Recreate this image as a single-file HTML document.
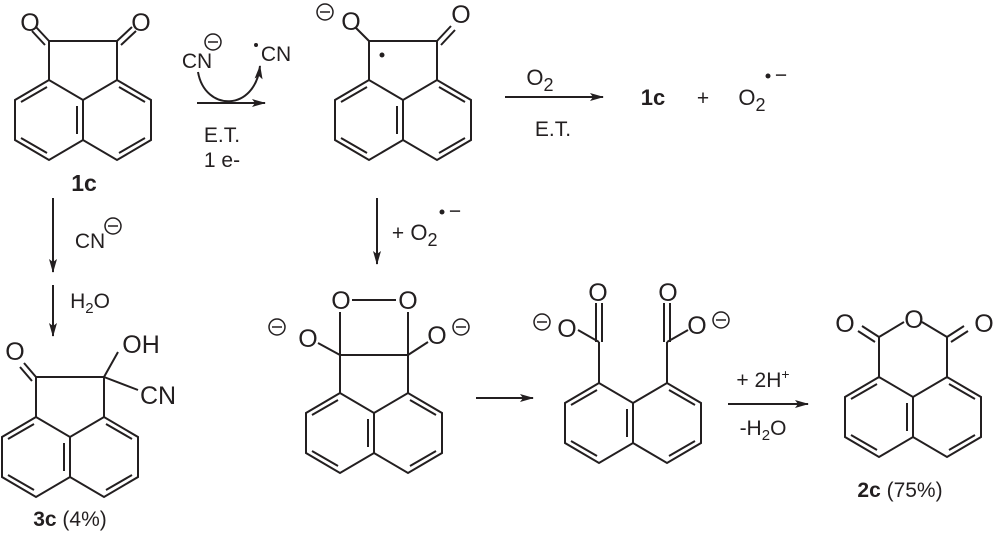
<!DOCTYPE html>
<html><head><meta charset="utf-8"><style>
html,body{margin:0;padding:0;background:#fff;}
svg{display:block;}
text{font-family:"Liberation Sans",sans-serif;fill:#231f20;}
</style></head><body>
<svg width="1000" height="536" viewBox="0 0 1000 536" xmlns="http://www.w3.org/2000/svg">
<defs>
<g id="naph" fill="none" stroke="#231f20" stroke-width="2">
<path d="M-34,-20 L-68,0 L-68,40 L-34,60 L0,40 L34,60 L68,40 L68,0 L34,-20 L0,0 Z M0,0 L0,40"/>
<path d="M-36,-13 L-62,2 M-62,38 L-36,53 M-6,6 L-6,34 M36,-13 L62,2 M62,38 L36,53"/>
</g>
<g id="minus" fill="none" stroke="#231f20" stroke-width="1.5">
<circle cx="0" cy="0" r="8"/><path d="M-5,0 L5,0"/>
</g>
<marker id="ah" markerWidth="14" markerHeight="8" refX="13" refY="4" orient="auto" markerUnits="userSpaceOnUse">
<path d="M0,0 L14,4 L0,8 L3,4 Z" fill="#231f20"/>
</marker>
</defs>

<g stroke="#231f20" stroke-width="2" fill="none">
<use href="#naph" x="83" y="100"/>
<path d="M49,80 L49,41 L117,41 L117,80"/>
<path d="M49,41 L36,27 M45,45 L32,31"/>
<path d="M117,41 L132,27 M121,45 L136,31"/>
<use href="#naph" x="403" y="100"/>
<path d="M369,80 L369,41 L437,41 L437,80"/>
<path d="M369,41 L356,28"/>
<path d="M437,41 L451,26 M441,45 L455,30"/>
<use href="#naph" x="70" y="437"/>
<path d="M36,417 L36,377 L104,377 L104,417"/>
<path d="M36,377 L24,363 M32,381 L20,367"/>
<path d="M104,377 L118,352 M104,377 L138,390"/>
<use href="#naph" x="374" y="413"/>
<path d="M340,393 L340,355 L408,355 L408,393"/>
<path d="M340,355 L340,312 M408,355 L408,312 M352,300 L396,300"/>
<path d="M340,355 L318,343 M408,355 L428,342"/>
<use href="#naph" x="633" y="403"/>
<path d="M599,383 L599,342 M667,383 L667,342"/>
<path d="M599,342 L578,330 M667,342 L688,330"/>
<path d="M596,342 L596,303 M602,342 L602,303 M664,342 L664,303 M670,342 L670,303"/>
<use href="#naph" x="913" y="397"/>
<path d="M879,377 L879,337 M947,377 L947,337"/>
<path d="M879,337 L904,322 M947,337 L922,322"/>
<path d="M879,337 L862,326 M875,342 L858,331"/>
<path d="M947,337 L964,326 M951,342 L968,331"/>
<path d="M197,103 L265,103" marker-end="url(#ah)"/>
<path d="M198,72 C205,112 255,112 260,66" marker-end="url(#ah)"/>
<path d="M505,97 L603,97" marker-end="url(#ah)"/>
<path d="M377,198 L377,264" marker-end="url(#ah)"/>
<path d="M53,198 L53,272" marker-end="url(#ah)"/>
<path d="M53,285 L53,336" marker-end="url(#ah)"/>
<path d="M476,398 L533,398" marker-end="url(#ah)"/>
<path d="M728,404 L808,404" marker-end="url(#ah)"/>
</g>

<g font-size="25" text-anchor="middle">
<text x="30" y="31">O</text><text x="141" y="31">O</text>
<text x="84" y="191" font-weight="bold" font-size="23">1c</text>
<text x="197" y="68" font-size="21">CN</text>
<use href="#minus" x="213" y="42"/>
<circle cx="256" cy="45" r="2" fill="#231f20"/>
<text x="276" y="61" font-size="21">CN</text>
<text x="222" y="142" font-size="21">E.T.</text>
<text x="222" y="167" font-size="21">1 e-</text>
<use href="#minus" x="325" y="12"/>
<text x="351" y="30">O</text>
<text x="461" y="23">O</text>
<circle cx="382" cy="55" r="2.5" fill="#231f20"/>
<text x="540" y="85" font-size="22">O<tspan font-size="18" dy="6">2</tspan></text>
<text x="553" y="136" font-size="21">E.T.</text>
<text x="653" y="105" font-weight="bold" font-size="22">1c</text>
<text x="703" y="105" font-size="21">+</text>
<text x="752" y="105" font-size="22">O<tspan font-size="18" dy="6">2</tspan></text>
<circle cx="768" cy="76" r="2.5" fill="#231f20"/>
<text x="781" y="82" font-size="21">−</text>
<text x="398" y="240" font-size="21">+</text>
<text x="424" y="240" font-size="22">O<tspan font-size="18" dy="6">2</tspan></text>
<circle cx="442" cy="212" r="2.5" fill="#231f20"/>
<text x="455" y="218" font-size="21">−</text>
<text x="90" y="248" font-size="21">CN</text>
<use href="#minus" x="113" y="226"/>
<text x="90" y="308" font-size="21">H<tspan font-size="15" dy="5">2</tspan><tspan dy="-5">O</tspan></text>
<text x="15" y="360">O</text>
<text x="141" y="353">OH</text>
<text x="158" y="404">CN</text>
<text x="70" y="526" font-size="21"><tspan font-weight="bold">3c</tspan> (4%)</text>
<text x="341" y="309">O</text><text x="408" y="309">O</text>
<use href="#minus" x="277" y="327"/>
<text x="308" y="347">O</text>
<text x="437" y="344">O</text>
<use href="#minus" x="461" y="327"/>
<text x="598" y="301">O</text><text x="668" y="301">O</text>
<use href="#minus" x="542" y="322"/>
<text x="567" y="337">O</text>
<text x="697" y="334">O</text>
<use href="#minus" x="721" y="320"/>
<text x="763" y="387" font-size="21">+ 2H<tspan font-size="14" dy="-8">+</tspan></text>
<text x="763" y="435" font-size="21">-H<tspan font-size="15" dy="5">2</tspan><tspan dy="-5">O</tspan></text>
<text x="914" y="328">O</text>
<text x="845" y="332">O</text><text x="984" y="332">O</text>
<text x="900" y="497" font-size="21"><tspan font-weight="bold">2c</tspan> (75%)</text>
</g>
</svg>
</body></html>
